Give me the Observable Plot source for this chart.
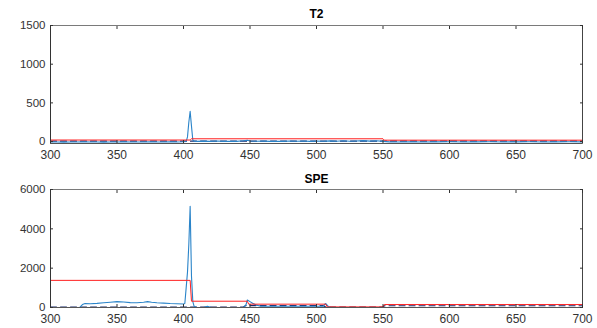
<!DOCTYPE html>
<html><head><meta charset="utf-8">
<script src="https://cdn.jsdelivr.net/npm/d3@7"></script>
<script src="https://cdn.jsdelivr.net/npm/@observablehq/plot@0.6"></script>
<style>body{margin:0;background:#fff;} #c{width:597px;height:328px;} svg{display:block}</style>
</head><body><div id="c"></div>
<script>
const xTicks = [300,350,400,450,500,550,600,650,700];
const t2Ticks = [0,500,1000,1500];
const speTicks = [0,2000,4000,6000];

const t2Stat = [[300,-6],[305,-5],[310,-7],[315,-5],[320,-6],[325,-4],[330,-6],[335,-5],[340,-7],[345,-5],[350,-6],[355,-4],[360,-6],[365,-5],[370,-6],[375,-4],[380,-5],[385,-6],[390,-4],[395,-5],[400,-3],[402,0],[403,60],[404,250],[405,390],[406,200],[407,20],[408,5],[410,2],[415,6],[420,3],[425,8],[430,2],[435,5],[440,3],[445,10],[448,18],[450,8],[455,4],[460,6],[465,2],[470,5],[475,3],[480,7],[485,4],[490,8],[495,3],[500,6],[505,4],[510,9],[515,5],[520,10],[525,4],[530,8],[535,12],[540,6],[545,10],[550,2],[555,-4],[560,-5],[570,-3],[580,-5],[590,-4],[600,-3],[610,-5],[620,-4],[630,-3],[640,-5],[650,-4],[660,-3],[670,-5],[680,-4],[690,-3],[700,-4]];
const t2Navy = [[300,5],[700,5]];
const t2Limit = [[300,20],[405,20],[406,36],[550,36],[551,18],[700,18]];

const speStat = [[300,0],[305,0],[310,0],[315,0],[320,0],[322,10],[324,150],[326,200],[330,190],[335,210],[340,240],[345,270],[350,300],[355,280],[360,250],[365,240],[370,270],[373,300],[376,270],[380,240],[385,220],[390,200],[395,190],[400,180],[401,200],[402,1000],[403,1800],[404,3200],[405,5150],[406,1600],[407,300],[408,60],[410,0],[415,0],[418,60],[421,0],[445,0],[447,150],[448,380],[450,300],[452,220],[455,120],[458,60],[505,60],[506,150],[507,200],[509,40],[511,0],[700,0]];
const speNavy = [[300,20],[445,20],[447,100],[505,100],[507,20],[550,20],[551,90],[700,90]];
const speLimit = [[300,1380],[405,1380],[406,320],[448,320],[449,170],[507,170],[508,30],[550,30],[551,150],[700,150]];

function panel({title, yDomain, yTicks, stat, navy, limit, titleDy}) {
  const X = d => d[0], Y = d => d[1];
  const fmt = d3.format("d");
  return Plot.plot({
    width: 597, height: 164,
    marginLeft: 50, marginRight: 15, marginTop: 25, marginBottom: 21,
    style: {fontFamily: "'Liberation Sans', Arial, sans-serif", fontSize: "11px", color: "#333", background: "#fff", overflow: "visible"},
    x: {domain: [300, 700]},
    y: {domain: yDomain},
    marks: [
      Plot.line(navy, {x: X, y: Y, stroke: "#1b2a6b", strokeWidth: 1.2, strokeDasharray: "6,4"}),
      Plot.line(stat, {x: X, y: Y, stroke: "#2a84c9", strokeWidth: 1.1}),
      Plot.line(limit, {x: X, y: Y, stroke: "#ff2020", strokeWidth: 1}),
      Plot.frame({stroke: "#7a7a7a"}),
      Plot.ruleX([700], {stroke: "#444"}),
      Plot.ruleY([yDomain[0]], {stroke: "#555"}),
      Plot.ruleX([300], {stroke: "#333"}),
      Plot.axisX(xTicks, {anchor: "bottom", tickSize: 0, tickPadding: 7, tickFormat: fmt, label: null, fill: "#333", fontSize: 12}),
      Plot.axisX(xTicks, {anchor: "bottom", tickSize: -3, tickFormat: () => "", label: null, stroke: "#333"}),
      Plot.axisX(xTicks, {anchor: "top", tickSize: -3, tickFormat: () => "", label: null, stroke: "#333"}),
      Plot.axisY(yTicks, {anchor: "left", tickSize: 0, tickPadding: 5, tickFormat: fmt, label: null, fill: "#333", fontSize: 11.5}),
      Plot.axisY(yTicks, {anchor: "left", tickSize: -3, tickFormat: () => "", label: null, stroke: "#333"}),
      Plot.axisY(yTicks, {anchor: "right", tickSize: -3, tickFormat: () => "", label: null, stroke: "#333"}),
      Plot.text([title], {text: d => d, frameAnchor: "top", dy: titleDy, lineAnchor: "bottom", fontWeight: "bold", fontSize: 12, fill: "#000"})
    ]
  });
}

const c = document.getElementById("c");
c.append(panel({title: "T2", yDomain: [-25, 1500], yTicks: t2Ticks, stat: t2Stat, navy: t2Navy, limit: t2Limit, titleDy: -8}));
c.append(panel({title: "SPE", yDomain: [0, 6000], yTicks: speTicks, stat: speStat, navy: speNavy, limit: speLimit, titleDy: -7}));
</script></body></html>
